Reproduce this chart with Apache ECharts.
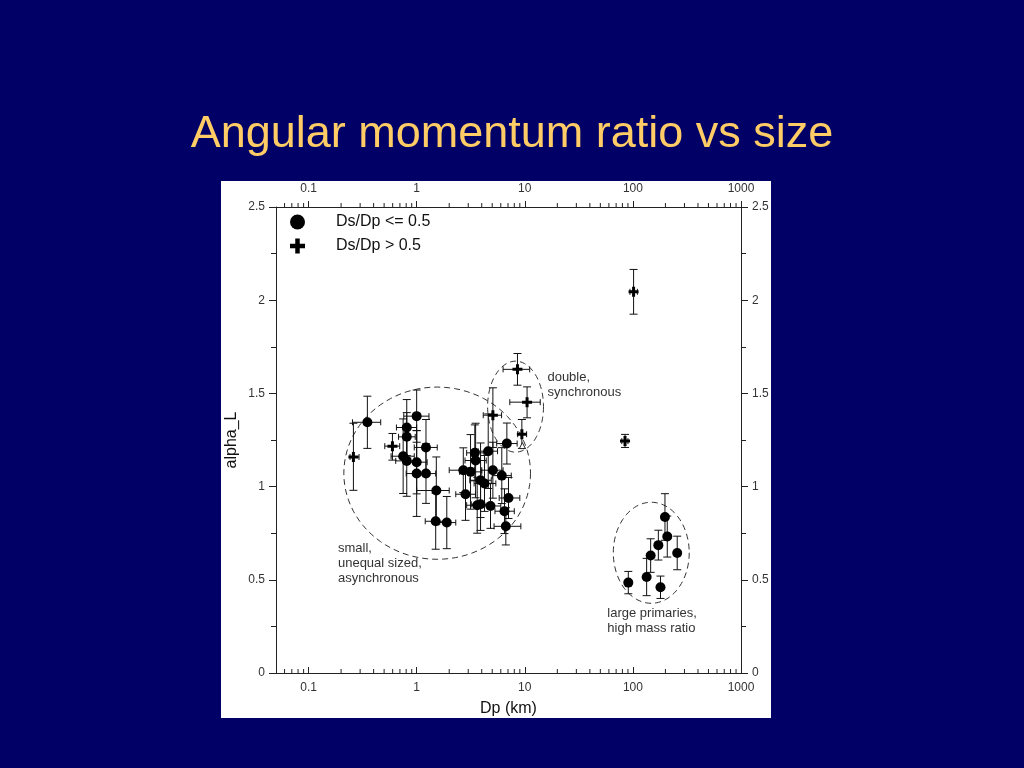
<!DOCTYPE html>
<html>
<head>
<meta charset="utf-8">
<script src="https://cdn.jsdelivr.net/npm/echarts@6/dist/echarts.min.js"></script>
<style>
html,body{margin:0;padding:0;background:#000066;}
#chart{width:1024px;height:768px;}
</style>
</head>
<body>
<div id="chart"></div>
<script>
// ---------- data ----------
// Ds/Dp <= 0.5 (filled circles)
const circDp = [0.35,1.0,0.81,0.81,1.22,0.75,0.81,1.0,1.0,1.22,1.52,1.50,1.9,
  2.70,3.15,3.45,3.51,4.59,2.83,3.90,4.24,5.07,6.13,6.83,3.63,3.90,4.82,7.07,6.49,6.68,
  90.7,134,146,172,198,208,257,180];
const circAlpha = [1.345,1.378,1.317,1.267,1.21,1.163,1.138,1.131,1.07,1.07,0.979,0.814,0.807,
  1.088,1.079,1.181,1.14,1.19,0.959,1.034,1.017,1.088,1.059,1.231,0.90,0.905,0.896,0.939,0.868,0.787,
  0.485,0.515,0.63,0.686,0.837,0.732,0.644,0.46];
const circDpLow = [0.255,0.76,0.65,0.68,0.95,0.58,0.64,0.8,0.8,1.0,1.0,1.2,1.6,
  2.0,2.5,2.9,2.8,3.7,2.3,3.1,3.4,4.0,5.0,5.5,2.9,3.2,3.9,5.8,5.3,5.2,
  86,127,138,163,188,198,244,171];
const circDpHigh = [0.465,1.3,1.0,0.97,1.55,0.95,1.0,1.25,1.25,1.5,2.0,1.85,2.3,
  3.4,4.0,4.2,4.4,5.6,3.5,4.9,5.4,6.3,7.5,8.5,4.5,4.9,6.0,9.0,8.0,9.2,
  96,141,154,181,208,218,270,189];
const circAlphaLow = [1.205,1.238,1.167,1.137,1.06,0.963,0.948,0.961,0.84,0.91,0.799,0.664,0.667,
  0.968,0.879,1.031,0.94,0.99,0.819,0.834,0.867,0.938,0.909,1.121,0.75,0.765,0.776,0.829,0.748,0.687,
  0.425,0.415,0.54,0.606,0.712,0.622,0.554,0.40];
const circAlphaHigh = [1.485,1.518,1.467,1.397,1.36,1.363,1.328,1.301,1.30,1.23,1.159,0.964,0.947,
  1.208,1.279,1.331,1.34,1.39,1.099,1.234,1.167,1.238,1.209,1.341,1.05,1.045,1.016,1.049,0.988,0.887,
  0.545,0.615,0.72,0.766,0.962,0.842,0.734,0.52];

// Ds/Dp > 0.5 (plus markers)
const plusDp = [0.26,0.597,5.07,10.5,9.4,8.56,101.5,84.6];
const plusAlpha = [1.159,1.217,1.383,1.453,1.281,1.629,2.045,1.244];
const plusDpLow = [0.242,0.507,4.13,7.27,8.6,6.3,94,79];
const plusDpHigh = [0.293,0.697,6.1,13.9,10.4,11.1,110,90];
const plusAlphaLow = [0.98,1.142,1.21,1.369,1.205,1.544,1.925,1.21];
const plusAlphaHigh = [1.34,1.285,1.53,1.535,1.36,1.714,2.165,1.28];

// small open triangle
const triDp = [9.5];
const triAlpha = [1.22];

// axis ticks
const xMajorTicks = [0.1,1,10,100,1000];
const xMinorTicks = [0.06,0.07,0.08,0.09,0.2,0.3,0.4,0.5,0.6,0.7,0.8,0.9,
  2,3,4,5,6,7,8,9,20,30,40,50,60,70,80,90,200,300,400,500,600,700,800,900];

// dashed group ellipses (extent in data units) and their labels
const grpDpMin = [0.212, 4.53, 65.9];
const grpDpMax = [11.3, 14.9, 332];
const grpAlphaMin = [0.61, 1.185, 0.374];
const grpAlphaMax = [1.534, 1.673, 0.916];
const grpLabelDp = [0.187, 16.2, 58];
const grpLabelAlpha = [0.71, 1.625, 0.36];
const grpLabels = ['small,\nunequal sized,\nasynchronous', 'double,\nsynchronous', 'large primaries,\nhigh mass ratio'];

// ---------- build ----------
const FONT = '"Liberation Sans", Arial, sans-serif';
const PLUS = 'path://M3.5,0H6.5V3.5H10V6.5H6.5V10H3.5V6.5H0V3.5H3.5Z';

const circData = circDp.map((d,i)=>[d,circAlpha[i]]);
const plusData = plusDp.map((d,i)=>[d,plusAlpha[i]]);
const errData = circDp.map((d,i)=>[d,circAlpha[i],circDpLow[i],circDpHigh[i],circAlphaLow[i],circAlphaHigh[i]])
  .concat(plusDp.map((d,i)=>[d,plusAlpha[i],plusDpLow[i],plusDpHigh[i],plusAlphaLow[i],plusAlphaHigh[i]]));
const grpData = grpDpMin.map((d,i)=>[d,grpAlphaMin[i],grpDpMax[i],grpAlphaMax[i],grpLabelDp[i],grpLabelAlpha[i],i]);

function isPow10(v){const l=Math.log10(v);return Math.abs(l-Math.round(l))<1e-6;}
function fmtX(v){ if(!isPow10(v)) return ''; return v>=1?String(Math.round(v)):String(+v.toFixed(1)); }

function renderErr(params, api){
  const x=api.value(0), y=api.value(1);
  const a=api.coord([api.value(2),y]), b=api.coord([api.value(3),y]);
  const c=api.coord([x,api.value(4)]), d=api.coord([x,api.value(5)]);
  const cap=4, hcap=3;
  const st={stroke:'#111',lineWidth:1};
  const L=(x1,y1,x2,y2)=>({type:'line',shape:{x1,y1,x2,y2},style:st});
  return {type:'group',children:[
    L(c[0],c[1],d[0],d[1]),
    L(c[0]-cap,c[1],c[0]+cap,c[1]),
    L(d[0]-cap,d[1],d[0]+cap,d[1]),
    L(a[0],a[1],b[0],b[1]),
    L(a[0],a[1]-hcap,a[0],a[1]+hcap),
    L(b[0],b[1]-hcap,b[0],b[1]+hcap)
  ]};
}

function renderGroup(params, api){
  const p1=api.coord([api.value(0),api.value(1)]);
  const p2=api.coord([api.value(2),api.value(3)]);
  const cx=(p1[0]+p2[0])/2, cy=(p1[1]+p2[1])/2;
  const rx=Math.abs(p2[0]-p1[0])/2, ry=Math.abs(p2[1]-p1[1])/2;
  const pts=[];
  for(let k=0;k<=96;k++){const t=k/96*Math.PI*2;pts.push([cx+rx*Math.cos(t),cy+ry*Math.sin(t)]);}
  const lp=api.coord([api.value(4),api.value(5)]);
  return {type:'group',children:[
    {type:'polyline',shape:{points:pts},style:{stroke:'#333',lineWidth:1,lineDash:[6,4],fill:null}},
    {type:'text',x:lp[0],y:lp[1],style:{text:grpLabels[api.value(6)],fill:'#333',font:'13px '+FONT,
      textAlign:'left',textVerticalAlign:'top',lineHeight:15}}
  ]};
}

function renderMinor(params, api){
  const v=api.value(0);
  const b=api.coord([v,0]), t=api.coord([v,2.5]);
  const st={stroke:'#222',lineWidth:1};
  return {type:'group',children:[
    {type:'line',shape:{x1:b[0],y1:b[1],x2:b[0],y2:b[1]-4},style:st},
    {type:'line',shape:{x1:t[0],y1:t[1],x2:t[0],y2:t[1]-4},style:st}
  ]};
}

const axisCommonX = {
  type:'log', logBase:10, min:0.05, max:1000,
  axisLine:{show:true,onZero:false,lineStyle:{color:'#222',width:1}},
  splitLine:{show:false},
  axisLabel:{formatter:fmtX,color:'#333',fontSize:12,fontFamily:FONT,showMinLabel:false}
};
const axisCommonY = {
  type:'value', min:0, max:2.5, interval:0.5,
  axisLine:{show:true,onZero:false,lineStyle:{color:'#222',width:1}},
  axisTick:{show:true,inside:false,length:7,lineStyle:{color:'#222'}},
  minorTick:{show:true,splitNumber:2,length:5,lineStyle:{color:'#222'}},
  splitLine:{show:false},
  axisLabel:{color:'#333',fontSize:12,fontFamily:FONT,margin:11}
};

const option = {
  backgroundColor:'#000066',
  animation:false,
  title:{text:'Angular momentum ratio vs size',left:'center',top:107,
    textStyle:{color:'#FFCC66',fontSize:45,fontWeight:'normal',fontFamily:FONT}},
  graphic:{elements:[{type:'rect',z:-100,silent:true,shape:{x:221,y:181,width:550,height:537},style:{fill:'#ffffff'}}]},
  grid:{left:276,right:283,top:207,bottom:95,containLabel:false},
  legend:{orient:'vertical',left:285,top:209,itemWidth:15,itemHeight:15,itemGap:8,
    data:[{name:'Ds/Dp <= 0.5',icon:'circle'},{name:'Ds/Dp > 0.5',icon:PLUS}],
    textStyle:{color:'#111',fontSize:16,fontFamily:FONT,padding:[0,0,0,26]}},
  xAxis:[
    Object.assign({},axisCommonX,{position:'bottom',name:'Dp (km)',nameLocation:'middle',nameGap:28,
      nameTextStyle:{color:'#111',fontSize:16,fontFamily:FONT},
      axisTick:{show:true,inside:true,length:6,lineStyle:{color:'#222'}},
      axisLabel:Object.assign({},axisCommonX.axisLabel,{margin:9})}),
    Object.assign({},axisCommonX,{position:'top',
      axisTick:{show:true,inside:false,length:6,lineStyle:{color:'#222'}},
      axisLabel:Object.assign({},axisCommonX.axisLabel,{margin:12})})
  ],
  yAxis:[
    Object.assign({},axisCommonY,{position:'left',name:'alpha_L',nameLocation:'middle',nameGap:36,nameRotate:90,
      nameTextStyle:{color:'#111',fontSize:16,fontFamily:FONT}}),
    Object.assign({},axisCommonY,{position:'right'})
  ],
  series:[
    {type:'custom',name:'groups',renderItem:renderGroup,data:grpData,clip:false,silent:true,z:1,
      encode:{x:0,y:1}},
    {type:'custom',name:'minorTicks',renderItem:renderMinor,data:xMinorTicks.map(v=>[v]),clip:false,silent:true,z:1,
      encode:{x:0}},
    {type:'custom',name:'errors',renderItem:renderErr,data:errData,clip:false,silent:true,z:2,
      encode:{x:0,y:1}},
    {type:'scatter',name:'Ds/Dp <= 0.5',data:circData,symbol:'circle',symbolSize:10,
      itemStyle:{color:'#000',opacity:1},z:3},
    {type:'scatter',name:'Ds/Dp > 0.5',data:plusData,symbol:PLUS,symbolSize:10,
      itemStyle:{color:'#000',opacity:1},z:3},
    {type:'scatter',name:'triangle',data:triDp.map((d,i)=>[d,triAlpha[i]]),symbol:'triangle',symbolSize:6,
      itemStyle:{color:'#fff',borderColor:'#222',borderWidth:1,opacity:1},z:3}
  ]
};
const chart = echarts.init(document.getElementById('chart'),null,{renderer:'canvas'});
chart.setOption(option);
</script>
</body>
</html>
